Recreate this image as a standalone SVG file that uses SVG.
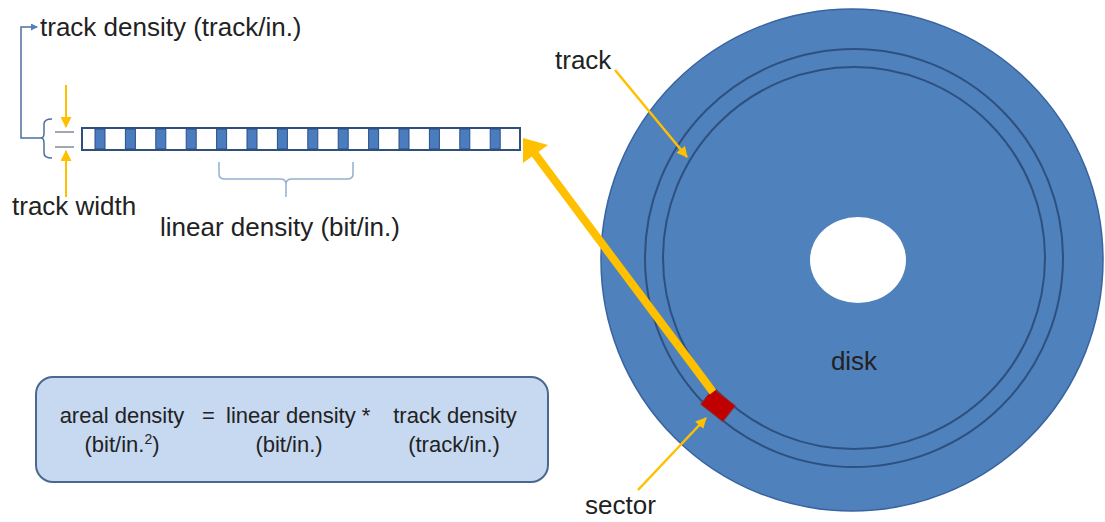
<svg xmlns="http://www.w3.org/2000/svg" width="1105" height="522" viewBox="0 0 1105 522">
<defs>
<style>
text{font-family:"Liberation Sans",Arial,sans-serif;fill:#222222}
.lbl{font-size:26px}
.eq{font-size:22px}
.yl{stroke:#FFC000;fill:none}
.bl{stroke:#4F6F9E;fill:none;stroke-width:1.5}
.br{stroke:#95AFD0;fill:none;stroke-width:1.5}
.cell{fill:#4A7DC0;stroke:#2F4F7F;stroke-width:1}
</style>
<marker id="ya" markerWidth="11" markerHeight="11" refX="10" refY="5.5" orient="auto" markerUnits="userSpaceOnUse" viewBox="0 0 11 11">
<path d="M0,0 L11,5.5 L0,11 z" fill="#FFC000"/>
</marker>
<marker id="ba" markerWidth="7" markerHeight="7" refX="6" refY="3.5" orient="auto" markerUnits="userSpaceOnUse" viewBox="0 0 7 7">
<path d="M0,0 L7,3.5 L0,7 z" fill="#4F81BD"/>
</marker>
</defs>

<g id="disk">
<circle cx="852" cy="260" r="251" fill="#4F81BD" stroke="#3A64A0" stroke-width="1.5"/>
<circle cx="854" cy="258" r="209" fill="none" stroke="#2E507F" stroke-width="2"/>
<circle cx="854" cy="258" r="191" fill="none" stroke="#2E507F" stroke-width="2"/>
<ellipse cx="858" cy="260" rx="48" ry="43" fill="#FFFFFF"/>
<text class="lbl" x="854" y="370" text-anchor="middle">disk</text>
</g>

<g id="track-bar">
<rect x="82" y="128" width="438" height="22" fill="#FFFFFF" stroke="#2F4F7F" stroke-width="2"/>
<rect class="cell" x="95" y="129" width="10" height="20"/>
<rect class="cell" x="125.4" y="129" width="10" height="20"/>
<rect class="cell" x="155.8" y="129" width="10" height="20"/>
<rect class="cell" x="186.2" y="129" width="10" height="20"/>
<rect class="cell" x="216.6" y="129" width="10" height="20"/>
<rect class="cell" x="247" y="129" width="10" height="20"/>
<rect class="cell" x="277.4" y="129" width="10" height="20"/>
<rect class="cell" x="307.8" y="129" width="10" height="20"/>
<rect class="cell" x="338.2" y="129" width="10" height="20"/>
<rect class="cell" x="368.6" y="129" width="10" height="20"/>
<rect class="cell" x="399" y="129" width="10" height="20"/>
<rect class="cell" x="429.4" y="129" width="10" height="20"/>
<rect class="cell" x="459.8" y="129" width="10" height="20"/>
<rect class="cell" x="490.2" y="129" width="10" height="20"/>
</g>

<g id="sector">
<rect x="-14" y="-10" width="28" height="20" fill="#C00000" stroke="#8B2F2F" stroke-width="1" transform="translate(718,405) rotate(38)"/>
</g>

<g id="equation">
<rect x="36" y="377" width="512" height="105" rx="17" ry="17" fill="#C6D9F1" stroke="#4A6890" stroke-width="2"/>
<text class="eq" x="122" y="423" text-anchor="middle">areal density</text>
<text class="eq" x="122" y="452" text-anchor="middle">(bit/in.<tspan font-size="14" dy="-8">2</tspan><tspan dy="8">)</tspan></text>
<text class="eq" x="202" y="423">=</text>
<text class="eq" x="226" y="423">linear density *</text>
<text class="eq" x="289" y="452" text-anchor="middle">(bit/in.)</text>
<text class="eq" x="455" y="423" text-anchor="middle">track density</text>
<text class="eq" x="454" y="452" text-anchor="middle">(track/in.)</text>
</g>

<g id="labels">
<text class="lbl" x="40" y="36">track density (track/in.)</text>
<text class="lbl" x="12" y="215">track width</text>
<text class="lbl" x="160" y="236">linear density (bit/in.)</text>
<text class="lbl" x="555" y="69">track</text>
<text class="lbl" x="585" y="514">sector</text>
</g>

<g id="connectors">
<path class="bl" d="M43,138 L21,138 L21,27 L37,27" marker-end="url(#ba)"/>
<path class="bl" d="M52,119 Q44,119 44,124 L44,133 Q44,138 41,138 Q44,138 44,143 L44,153 Q44,158 52,158"/>
<line x1="55" y1="132" x2="74" y2="132" stroke="#7F8A99" stroke-width="1.5"/>
<line x1="55" y1="147" x2="74" y2="147" stroke="#7F8A99" stroke-width="1.5"/>
<line class="yl" x1="66" y1="85" x2="66" y2="127" stroke-width="2" marker-end="url(#ya)"/>
<line class="yl" x1="66" y1="197" x2="66" y2="151" stroke-width="2" marker-end="url(#ya)"/>
<path class="br" d="M219,162 L219,174 Q219,179 225,179 L280,179 Q286,179 286,184 L286,197 M286,184 Q286,179 292,179 L347,179 Q353,179 353,174 L353,162"/>
<line x1="713" y1="392" x2="535" y2="154" stroke="#FFC000" stroke-width="8"/>
<polygon points="523,138 548,145 523,163" fill="#FFC000"/>
<line class="yl" x1="615" y1="70" x2="687" y2="157" stroke-width="2.5" marker-end="url(#ya)"/>
<line class="yl" x1="638" y1="490" x2="706" y2="418" stroke-width="2.5" marker-end="url(#ya)"/>
</g>
</svg>
